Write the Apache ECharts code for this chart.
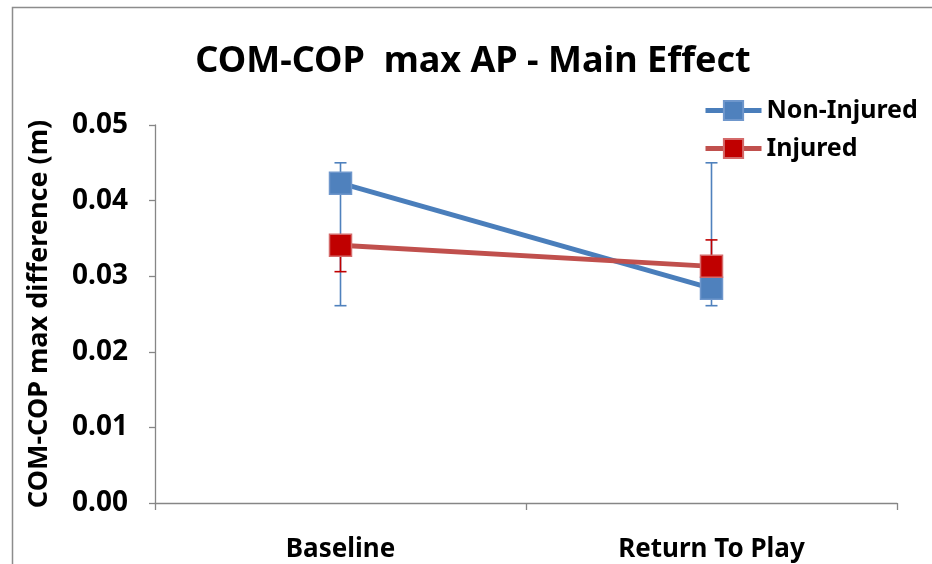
<!DOCTYPE html>
<html>
<head>
<meta charset="utf-8">
<script src="https://cdn.jsdelivr.net/npm/echarts@6/dist/echarts.min.js"></script>
<style>html,body{margin:0;padding:0;background:#fff;}#c{width:932px;height:564px;}</style>
</head>
<body>
<div id="c"></div>
<script>
const categories = ['Baseline', 'Return To Play'];
const nonInjured = [0.0423, 0.0284];
const injured = [0.0341, 0.0313];
// error bar ends [category index, low, high]
const nonInjuredErr = [[0, 0.0261, 0.0450], [1, 0.0261, 0.0450]];
const injuredErr = [[0, 0.0306, 0.0341], [1, 0.0313, 0.0348]];
const yTicks = [0, 0.01, 0.02, 0.03, 0.04, 0.05];

const FONT = 'Noto Sans';
const chart = echarts.init(document.getElementById('c'));

function errRender(color) {
  return function (params, api) {
    const x = api.value(0);
    const lo = api.coord([x, api.value(1)]);
    const hi = api.coord([x, api.value(2)]);
    const cap = 6;
    const style = { stroke: color, lineWidth: 1.6 };
    return {
      type: 'group',
      children: [
        { type: 'line', shape: { x1: lo[0], y1: lo[1], x2: hi[0], y2: hi[1] }, style },
        { type: 'line', shape: { x1: lo[0] - cap, y1: lo[1], x2: lo[0] + cap, y2: lo[1] }, style },
        { type: 'line', shape: { x1: hi[0] - cap, y1: hi[1], x2: hi[0] + cap, y2: hi[1] }, style }
      ]
    };
  };
}

chart.setOption({
  animation: false,
  title: {
    text: 'COM-COP  max AP - Main Effect',
    left: 468, top: 39, textAlign: 'center',
    textStyle: { fontFamily: FONT, fontWeight: 'bold', fontSize: 36, color: '#000' }
  },
  legend: {
    orient: 'vertical', left: 698, top: 93, itemGap: 13,
    itemWidth: 56, itemHeight: 24,
    lineStyle: { width: 5 },
    textStyle: { fontFamily: FONT, fontWeight: 'bold', fontSize: 25, color: '#000' },
    data: ['Non-Injured', 'Injured']
  },
  graphic: [{
    type: 'rect', shape: { x: 12.5, y: 7.5, width: 1000, height: 700 },
    style: { fill: 'none', stroke: '#8c8c8c', lineWidth: 1.5 }, silent: true
  }],
  grid: { left: 155, right: 35, top: 125, bottom: 61 },
  xAxis: {
    type: 'category', data: categories, boundaryGap: true,
    axisLine: { lineStyle: { color: '#868686', width: 1.3 } },
    axisTick: { show: true, length: 7, lineStyle: { color: '#868686', width: 1.3 } },
    axisLabel: { margin: 34, fontFamily: FONT, fontWeight: 'bold', fontSize: 26, color: '#000' }
  },
  yAxis: {
    type: 'value', min: 0, max: 0.05, interval: 0.01,
    name: 'COM-COP max difference (m)', nameLocation: 'middle', nameGap: 102,
    nameTextStyle: { fontFamily: FONT, fontWeight: 'bold', fontSize: 27, color: '#000' },
    axisLine: { show: true, lineStyle: { color: '#868686', width: 1.3 } },
    axisTick: { show: true, length: 6, lineStyle: { color: '#868686', width: 1.3 } },
    splitLine: { show: false },
    axisLabel: {
      margin: 27, fontFamily: FONT, fontWeight: 'bold', fontSize: 28, color: '#000',
      formatter: v => yTicks.includes(Math.round(v * 100) / 100) ? v.toFixed(2) : ''
    }
  },
  series: [
    { type: 'custom', name: 'errNI', renderItem: errRender('#4f81bd'), data: nonInjuredErr, z: 1, encode: { x: 0, y: [1, 2] } },
    { type: 'custom', name: 'errI', renderItem: errRender('#c00000'), data: injuredErr, z: 1, encode: { x: 0, y: [1, 2] } },
    {
      type: 'line', name: 'Non-Injured', data: nonInjured, z: 3,
      symbol: 'rect', symbolSize: 22,
      lineStyle: { color: '#4a7ebb', width: 5 },
      itemStyle: { color: '#4f81bd', borderColor: '#6f97cc', borderWidth: 1.5 }
    },
    {
      type: 'line', name: 'Injured', data: injured, z: 4,
      symbol: 'rect', symbolSize: 22,
      lineStyle: { color: '#c0504d', width: 5 },
      itemStyle: { color: '#c00000', borderColor: '#d46a6a', borderWidth: 1.5 }
    }
  ]
});
</script>
</body>
</html>
